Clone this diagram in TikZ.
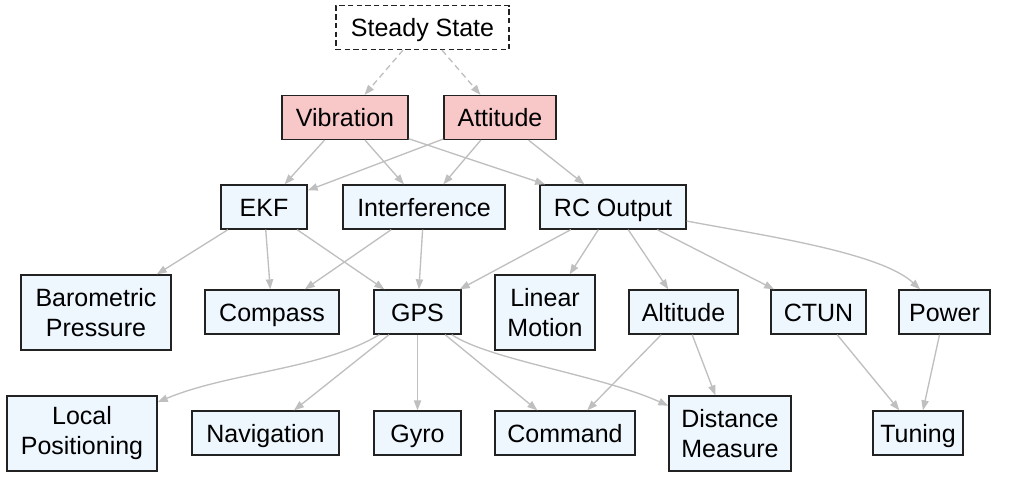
\documentclass[tikz,border=0pt]{standalone}
\usepackage{fontspec}
\setmainfont{Liberation Sans}
\usetikzlibrary{arrows.meta}
\definecolor{pinkf}{HTML}{F8C8C8}
\definecolor{bluef}{HTML}{EEF6FE}
\definecolor{edgec}{HTML}{BFBFBF}
\definecolor{bordc}{HTML}{222222}
\begin{document}
\begin{tikzpicture}[x=0.75pt,y=-0.75pt,
 box/.style={draw=bordc,line width=1pt,fill=bluef,inner sep=0pt,minimum height=33pt,align=center,font=\fontsize{18.75}{22.5}\selectfont,text height=16.5pt,text depth=2.3pt},
 tall/.style={minimum height=56.25pt,text height=,text depth=},
 hot/.style={fill=pinkf},
 mw/.style={minimum width=#1*0.75pt},
 conn/.style={draw=edgec,line width=1pt,-{Triangle[length=7.5pt,width=5.5pt]}},
 dconn/.style={conn,dash pattern=on 4.5pt off 3pt},
]
\useasboundingbox (0,0) rectangle (1017,476);
\node[box,mw=173,fill=white,dash pattern=on 4pt off 2.5pt] (ss) at (422.5,27.5) {Steady State};
\node[box,hot,mw=126] (vib) at (345,117.5) {Vibration};
\node[box,hot,mw=112] (att) at (500,117.5) {Attitude};
\node[box,mw=86] (ekf) at (264,207) {EKF};
\node[box,mw=162] (itf) at (424,207) {Interference};
\node[box,mw=146] (rc) at (613,207) {RC Output};
\node[box,tall,mw=150] (baro) at (96,312.5) {Barometric\\Pressure};
\node[box,mw=134] (cmp) at (272,312) {Compass};
\node[box,mw=87] (gps) at (417.5,312) {GPS};
\node[box,tall,mw=100] (lin) at (545,312.5) {Linear\\Motion};
\node[box,mw=109] (alt) at (683.5,312) {Altitude};
\node[box,mw=95] (ctun) at (818.5,312) {CTUN};
\node[box,mw=91] (pow) at (944.5,312) {Power};
\node[box,tall,mw=150] (loc) at (82,433.5) {Local\\Positioning};
\node[box,mw=147] (nav) at (265.5,433) {Navigation};
\node[box,mw=87] (gyro) at (417.5,433) {Gyro};
\node[box,mw=140] (cmd) at (565,433) {Command};
\node[box,tall,mw=122] (dist) at (730,433.5) {Distance\\Measure};
\node[box,mw=90] (tun) at (918,433) {Tuning};

\draw[dconn] (ss) -- (vib);
\draw[dconn] (ss) -- (att);
\draw[conn] (vib) -- (ekf);
\draw[conn] (vib) -- (itf);
\draw[conn] (vib) -- (rc);
\draw[conn] (att) -- (ekf);
\draw[conn] (att) -- (itf);
\draw[conn] (att) -- (rc);
\draw[conn] (ekf) -- (baro);
\draw[conn] (ekf) -- (cmp);
\draw[conn] (ekf) -- (gps);
\draw[conn] (itf) -- (cmp);
\draw[conn] (itf) -- (gps);
\draw[conn] (rc) -- (gps);
\draw[conn] (rc) -- (lin);
\draw[conn] (rc) -- (alt);
\draw[conn] (rc) -- (ctun);
\draw[conn] (rc) .. controls (760,235) and (880,252) .. (pow);
\draw[conn] (gps) .. controls (320,370) and (230,372) .. (loc);
\draw[conn] (gps) -- (nav);
\draw[conn] (gps) -- (gyro);
\draw[conn] (gps) -- (cmd);
\draw[conn] (gps) .. controls (490,360) and (600,375) .. (dist);
\draw[conn] (alt) -- (cmd);
\draw[conn] (alt) -- (dist);
\draw[conn] (ctun) -- (tun);
\draw[conn] (pow) -- (tun);
\end{tikzpicture}
\end{document}
